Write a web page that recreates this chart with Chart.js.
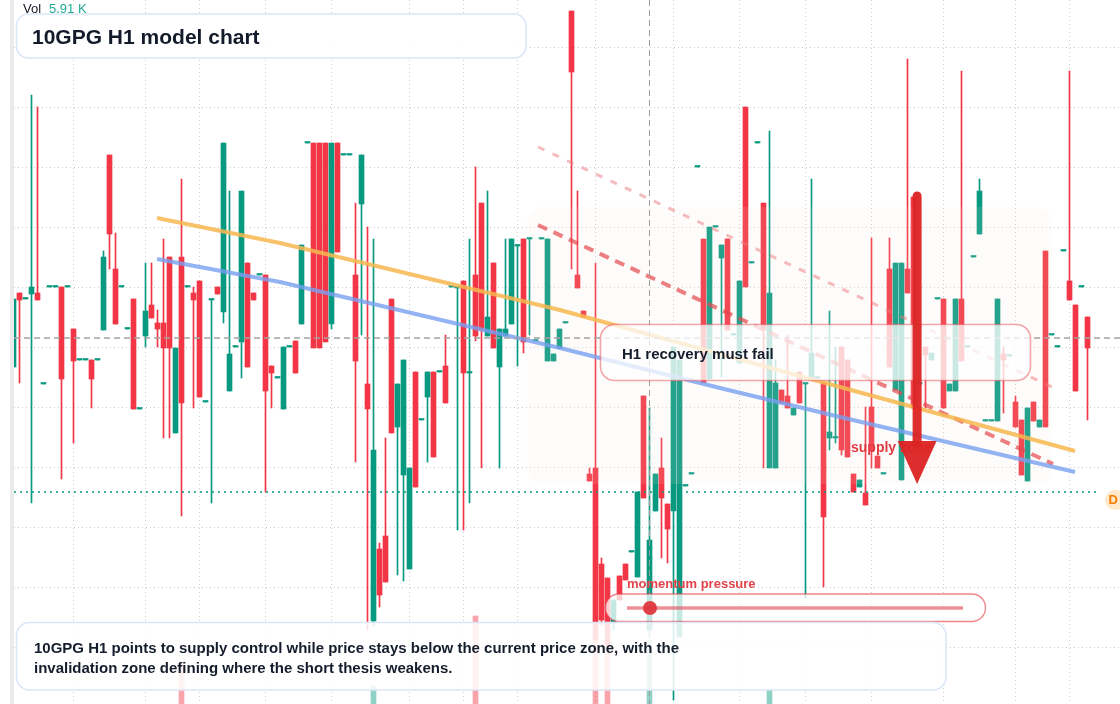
<!DOCTYPE html>
<html><head><meta charset="utf-8">
<script src="https://cdn.jsdelivr.net/npm/chart.js@4.4.1/dist/chart.umd.min.js"></script>
<style>html,body{margin:0;padding:0;background:#fff;overflow:hidden}#wrap{position:relative;width:1120px;height:704px}</style>
</head><body><div id="wrap"><canvas id="c" width="1120" height="704"></canvas></div>
<script>
// ---- candle data (H1 bars, oldest first) ----
const openP = [6.33,7.07,7.01,7.06,7.07,6.16,7.13,7.13,7.13,7.13, 6.71,6.40,6.40,6.40,6.40,6.70,8.45,7.31,7.13,6.71,
 7.01,5.91,6.64,6.95,6.77,6.77,7.43,5.67,7.43,7.13, 7.07,7.19,5.98,7.00,7.13,6.88,6.09,6.53,6.58,7.37,
 7.07,7.25,7.25,6.34,6.22,5.91,6.53,6.59,6.76,8.57, 8.57,8.57,8.57,6.76,8.57,8.45,8.45,7.25,7.96,6.16,
 3.79,4.51,4.64,7.01,5.73,5.25,4.31,6.28,5.80,6.03, 6.28,6.28,6.34,7.13,7.12,7.19,6.27,7.25,7.97,6.64,
 7.37,6.33,6.64,6.76,7.54,7.61,7.61,6.59,7.61,6.39, 6.39,6.52,6.77,9.89,7.25,6.89,5.26,5.32,4.36,4.22,
 3.78,4.24,4.36,4.48,4.23,6.04,3.70,4.89,5.32,4.96, 4.89,3.63,5.14,5.26,8.33,7.61,6.21,7.73,7.42,7.61,
 6.65,6.37,8.93,7.37,8.57,7.97,5.32,5.32,6.10,6.04, 5.85,6.28,6.16,6.22,6.22,6.17,5.62,5.62,6.53,6.40,
 5.26,5.13,5.07,5.93,5.44,5.26,7.31,6.10,5.20,7.31, 8.03,6.16,6.53,6.40,7.01,7.01,6.09,6.09,7.01,6.53,
 7.43,7.66,5.79,5.79,5.79,6.46,6.44,5.98,5.80,5.19, 5.98,5.73,7.49,6.65,6.53,7.49,7.19,6.95,7.13,6.83];
const highP = [7.01,7.07,7.01,9.05,8.93,6.16,7.13,7.13,7.13,7.13, 6.71,6.40,6.40,6.40,6.40,7.49,8.45,7.67,7.13,6.71,
 7.01,5.91,7.37,7.37,6.90,7.61,7.43,6.52,8.21,7.13, 7.13,7.19,5.98,7.01,7.13,8.57,8.09,6.53,8.09,7.37,
 7.07,7.25,7.25,6.34,6.22,6.53,6.53,6.59,7.55,8.57, 8.57,8.57,8.57,8.57,8.57,8.45,8.45,7.97,8.45,7.73,
 7.61,4.57,5.62,7.01,6.16,6.40,5.32,6.28,5.80,6.28, 6.28,6.28,6.65,7.13,7.13,7.19,7.61,8.33,7.97,8.09,
 7.37,6.71,7.61,7.61,7.55,7.61,7.61,6.59,7.61,7.61, 6.46,6.71,6.77,9.89,8.09,6.89,5.32,7.37,4.42,4.22,
 4.00,4.24,4.36,4.48,5.08,6.04,5.92,5.26,5.62,4.96, 6.53,6.40,5.14,5.26,8.33,7.61,7.73,7.73,7.55,7.61,
 6.65,7.19,8.93,7.37,8.57,7.97,8.69,6.40,6.10,6.65, 5.92,6.28,6.16,8.21,6.22,6.17,6.89,6.53,6.53,6.40,
 5.26,5.20,5.93,7.62,5.44,5.26,7.62,7.37,7.37,9.41, 8.03,6.16,6.53,6.47,7.01,7.01,6.16,7.01,9.29,6.53,
 7.43,8.21,5.79,5.79,7.01,6.53,6.44,6.04,5.80,5.92, 5.98,5.80,7.49,6.65,6.53,7.49,9.29,6.95,7.13,6.83];
const lowP = [6.33,6.17,7.01,4.97,7.00,6.16,7.13,7.13,5.21,7.13, 5.57,6.40,6.40,5.92,6.40,6.70,7.31,6.76,7.13,6.71,
 5.91,5.91,6.53,6.82,6.53,5.62,5.62,5.67,4.84,7.13, 5.92,6.03,5.98,4.97,7.06,6.77,6.09,6.53,6.22,6.33,
 7.00,7.25,5.08,5.92,6.22,5.91,6.53,6.27,6.76,8.57, 6.52,6.52,6.58,6.71,7.48,8.45,8.45,5.38,6.65,3.70,
 3.74,3.93,4.18,5.67,4.25,4.19,4.31,5.13,5.80,5.38, 5.43,6.28,5.97,7.13,4.70,4.70,4.97,6.59,5.32,6.64,
 6.52,5.32,6.64,6.76,6.34,6.47,6.65,6.59,7.61,6.39, 6.39,6.52,6.77,7.31,7.12,6.83,5.19,3.60,3.75,3.55,
 3.70,4.00,4.20,4.48,4.23,5.02,3.63,4.89,4.42,4.37, 3.00,3.63,5.14,5.26,8.33,6.17,6.21,7.73,6.23,6.70,
 6.65,6.37,7.13,7.37,8.57,5.32,5.32,5.32,5.97,5.92, 5.85,5.97,4.02,6.22,6.22,4.13,5.50,5.57,5.45,5.43,
 5.08,5.13,4.95,5.32,5.32,5.26,6.33,6.10,5.20,7.07, 5.92,6.16,5.92,6.40,7.01,5.92,6.09,6.09,6.39,6.53,
 7.43,7.66,5.79,5.79,5.79,5.87,6.44,5.73,5.25,5.19, 5.79,5.73,5.73,6.65,6.53,7.49,7.00,6.09,7.13,5.80];
const closeP = [7.01,7.00,7.01,7.13,7.00,6.16,7.13,7.13,6.21,7.13, 6.39,6.40,6.40,6.21,6.40,7.43,7.66,6.76,7.13,6.71,
 5.91,5.91,6.89,6.82,6.71,6.52,6.52,6.52,5.97,7.13, 7.00,6.03,5.98,7.01,7.06,8.57,6.46,6.53,8.09,6.33,
 7.00,7.25,6.09,6.27,6.22,6.53,6.53,6.27,7.55,8.57, 6.52,6.52,6.58,8.57,7.48,8.45,8.45,6.39,8.45,5.91,
 5.50,4.05,4.18,5.67,6.16,6.40,5.32,5.13,5.80,6.28, 5.43,6.28,5.97,7.13,7.13,6.27,6.28,6.64,6.70,6.83,
 6.52,6.71,6.71,7.61,7.55,6.58,7.61,6.59,7.61,7.61, 6.46,6.71,6.77,9.28,7.12,6.83,5.19,3.60,3.80,3.55,
 4.00,4.00,4.20,4.48,5.08,5.02,4.60,5.26,5.02,4.71, 6.53,6.40,5.14,5.26,8.33,6.17,7.73,7.73,7.55,6.70,
 6.65,7.19,7.13,7.37,8.57,6.70,7.07,6.17,5.97,5.92, 5.92,5.97,6.16,6.47,6.22,4.83,5.68,5.62,5.50,5.43,
 5.08,5.20,4.95,5.49,5.32,5.26,6.33,7.37,7.37,7.07, 5.92,6.16,6.45,6.47,7.01,5.92,6.16,7.01,6.39,6.53,
 7.43,8.09,5.79,5.79,7.01,6.40,6.44,5.73,5.25,5.92, 5.79,5.80,5.73,6.65,6.53,7.49,7.00,6.09,7.13,6.52];
// visible volume bars (bar index, volume in K)
const volIdx = [28, 60, 77, 97, 99, 106, 126];
const volK   = [4.2, 1.8, 8.8, 7.4, 6.4, 6.4, 1.4];
// price grid & reference levels
const gridPrices = [9.53, 8.93, 8.33, 7.73, 7.13, 6.53, 5.93, 5.33, 4.73, 4.13, 3.53];
const gridBars = [10, 22, 31, 42, 53, 66, 75, 84, 97, 110, 121, 132, 143, 155, 167, 176];
const crossBar = 106, crossPrice = 6.62, lastPrice = 5.08;
// drawn structure (bar index / price)
const orangeX = [23.92, 44.42, 91.08, 137.75, 176.92];
const orangeY = [7.82, 7.57, 6.90, 6.13, 5.49];
const blueX = [23.92, 44.42, 91.08, 117.75, 137.75, 176.92];
const blueY = [7.41, 7.18, 6.52, 6.12, 5.83, 5.28];
const redLowX = [87.42, 173.25], redLowY = [7.75, 5.36];
const redHighX = [87.42, 173.08], redHighY = [8.53, 6.13];
const zoneX = [85.6, 173.1], zoneY = [7.93, 5.16];
const arrowBar = 150.6, arrowFrom = 8.04, arrowHeadBase = 5.59, arrowTip = 5.16;

const GREEN = '#089981', RED = '#f23645';
const isUp = i => closeP[i] >= openP[i];
const colors = openP.map((_, i) => isUp(i) ? GREEN : RED);
const bodyData = openP.map((o, i) => ({x: i, y: [o, closeP[i]]}));
const wickData = openP.map((o, i) => ({x: i, y: [lowP[i], highP[i]]}));
const volData = volIdx.map((b, k) => ({x: b, y: volK[k]}));
const volColors = volIdx.map(b => isUp(b) ? 'rgba(8,153,129,0.45)' : 'rgba(242,54,69,0.45)');
const pts = (xs, ys) => xs.map((x, k) => ({x, y: ys[k]}));

const FONT = "'Liberation Sans', Arial, sans-serif";
function rr(ctx, x, y, w, h, r) {
  ctx.beginPath();
  ctx.moveTo(x + r, y); ctx.lineTo(x + w - r, y); ctx.arcTo(x + w, y, x + w, y + r, r);
  ctx.lineTo(x + w, y + h - r); ctx.arcTo(x + w, y + h, x + w - r, y + h, r);
  ctx.lineTo(x + r, y + h); ctx.arcTo(x, y + h, x, y + h - r, r);
  ctx.lineTo(x, y + r); ctx.arcTo(x, y, x + r, y, r); ctx.closePath();
}
const BODY_INDEX = 1;
const annot = {
  id: 'annot',
  beforeDatasetsDraw(chart) {
    const {ctx} = chart, xs = chart.scales.x, ys = chart.scales.y;
    ctx.save();
    ctx.strokeStyle = '#cdcdcd'; ctx.lineWidth = 1; ctx.setLineDash([1, 3]);
    gridPrices.forEach(p => { const y = Math.round(ys.getPixelForValue(p)) + 0.5;
      ctx.beginPath(); ctx.moveTo(14, y); ctx.lineTo(1120, y); ctx.stroke(); });
    gridBars.forEach(b => { const x = Math.floor(xs.getPixelForValue(b)) + 0.5;
      ctx.beginPath(); ctx.moveTo(x, 0); ctx.lineTo(x, 704); ctx.stroke(); });
    ctx.restore();
  },
  afterDatasetDraw(chart, args) {
    if (args.index !== BODY_INDEX) return;
    const {ctx} = chart, xs = chart.scales.x, ys = chart.scales.y;
    const x0 = xs.getPixelForValue(zoneX[0]), x1 = xs.getPixelForValue(zoneX[1]);
    const y0 = ys.getPixelForValue(zoneY[0]), y1 = ys.getPixelForValue(zoneY[1]);
    ctx.save(); rr(ctx, x0, y0, x1 - x0, y1 - y0, 16);
    ctx.fillStyle = 'rgba(245,228,210,0.12)'; ctx.fill(); ctx.restore();
  },
  afterDatasetsDraw(chart) {
    const {ctx} = chart, xs = chart.scales.x, ys = chart.scales.y;
    ctx.save();
    // crosshair and last price
    ctx.lineWidth = 1; ctx.strokeStyle = '#9c9c9c'; ctx.setLineDash([6, 4]);
    const cx = Math.floor(xs.getPixelForValue(crossBar)) + 0.5;
    ctx.beginPath(); ctx.moveTo(cx, 0); ctx.lineTo(cx, 704); ctx.stroke();
    ctx.lineWidth = 1.5; ctx.strokeStyle = '#a3a3a3';
    const cy = ys.getPixelForValue(crossPrice);
    ctx.beginPath(); ctx.moveTo(14, cy); ctx.lineTo(1120, cy); ctx.stroke();
    ctx.strokeStyle = GREEN; ctx.setLineDash([2, 4]);
    const ly = ys.getPixelForValue(lastPrice);
    ctx.beginPath(); ctx.moveTo(14, ly); ctx.lineTo(1100, ly); ctx.stroke();
    ctx.setLineDash([]);
    // H1 box
    rr(ctx, 600.5, 324.5, 430, 56, 14);
    ctx.fillStyle = 'rgba(255,255,255,0.76)'; ctx.fill();
    ctx.strokeStyle = 'rgba(232,80,88,0.5)'; ctx.lineWidth = 1.6; ctx.stroke();
    ctx.fillStyle = '#151d2d'; ctx.font = 'bold 15px ' + FONT; ctx.textBaseline = 'alphabetic';
    ctx.fillText('H1 recovery must fail', 622, 359);
    // slider
    rr(ctx, 605.5, 594, 380, 27.5, 13.5);
    ctx.fillStyle = 'rgba(255,255,255,0.76)'; ctx.fill();
    ctx.strokeStyle = 'rgba(230,70,78,0.65)'; ctx.lineWidth = 1.4; ctx.stroke();
    ctx.strokeStyle = 'rgba(226,72,80,0.6)'; ctx.lineWidth = 3.5;
    ctx.beginPath(); ctx.moveTo(627, 608); ctx.lineTo(963, 608); ctx.stroke();
    ctx.fillStyle = 'rgba(224,50,56,0.92)'; ctx.beginPath(); ctx.arc(650, 608, 7, 0, Math.PI * 2); ctx.fill();
    ctx.fillStyle = '#e2434b'; ctx.font = 'bold 13px ' + FONT;
    ctx.fillText('momentum pressure', 627, 588);
    // supply zone label
    ctx.fillStyle = '#e03b40'; ctx.font = 'bold 14px ' + FONT;
    ctx.fillText('supply zone', 851, 452);
    // arrow
    const ax = xs.getPixelForValue(arrowBar);
    const aTop = ys.getPixelForValue(arrowFrom), aBase = ys.getPixelForValue(arrowHeadBase), aTip = ys.getPixelForValue(arrowTip);
    ctx.strokeStyle = 'rgba(220,36,36,0.96)'; ctx.lineWidth = 9; ctx.lineCap = 'round';
    ctx.beginPath(); ctx.moveTo(ax, aTop); ctx.lineTo(ax, aBase + 2); ctx.stroke();
    ctx.lineCap = 'butt';
    ctx.fillStyle = 'rgba(220,36,36,0.96)';
    ctx.beginPath(); ctx.moveTo(ax - 19.5, aBase); ctx.lineTo(ax + 19.5, aBase); ctx.lineTo(ax, aTip); ctx.closePath(); ctx.fill();
    // bottom note
    rr(ctx, 16.5, 622.5, 929.5, 67.5, 13);
    ctx.fillStyle = 'rgba(255,255,255,0.86)'; ctx.fill();
    ctx.strokeStyle = '#dbe6f8'; ctx.lineWidth = 1.6; ctx.stroke();
    ctx.fillStyle = '#151d2d'; ctx.font = 'bold 15px ' + FONT;
    ctx.fillText('10GPG H1 points to supply control while price stays below the current price zone, with the', 34, 653);
    ctx.fillText('invalidation zone defining where the short thesis weakens.', 34, 673);
    // title
    rr(ctx, 16.5, 14, 509.5, 44, 12);
    ctx.fillStyle = 'rgba(255,255,255,0.93)'; ctx.fill();
    ctx.strokeStyle = '#dbe6f8'; ctx.lineWidth = 1.6; ctx.stroke();
    ctx.fillStyle = '#131b2b'; ctx.font = 'bold 21px ' + FONT;
    ctx.fillText('10GPG H1 model chart', 32, 43.5);
    // vol label
    ctx.font = '13px ' + FONT; ctx.fillStyle = '#131722'; ctx.fillText('Vol', 23, 13);
    ctx.fillStyle = '#22ab94'; ctx.fillText('5.91 K', 49, 13);
    // D badge
    ctx.fillStyle = 'rgba(255,190,110,0.35)'; ctx.beginPath(); ctx.arc(1115, 500, 10, 0, Math.PI * 2); ctx.fill();
    ctx.fillStyle = '#f57c00'; ctx.font = 'bold 13px ' + FONT; ctx.textBaseline = 'middle';
    ctx.fillText('D', 1108.5, 500.5);
    // left strip
    ctx.fillStyle = '#ebebeb'; ctx.fillRect(10, 0, 4, 704);
    ctx.restore();
  }
};

new Chart(document.getElementById('c'), {
  type: 'bar',
  data: {
    datasets: [
      {type: 'line', data: pts(orangeX, orangeY), borderColor: 'rgba(247,183,80,0.85)', borderWidth: 4, pointRadius: 0, order: 0, tension: 0},
      {data: bodyData, backgroundColor: colors, barThickness: 5, minBarLength: 1.5, grouped: false, order: 1, borderWidth: 0},
      {data: wickData, backgroundColor: colors, barThickness: 1, grouped: false, order: 2, borderWidth: 0},
      {data: volData, backgroundColor: volColors, barThickness: 5, grouped: false, order: 3, yAxisID: 'yv', borderWidth: 0},
      {type: 'line', data: pts(blueX, blueY), borderColor: 'rgba(120,160,240,0.8)', borderWidth: 4, pointRadius: 0, order: 0, tension: 0},
      {type: 'line', data: pts(redLowX, redLowY), borderColor: 'rgba(228,72,78,0.7)', borderWidth: 4, borderDash: [10, 7], pointRadius: 0, order: 0},
      {type: 'line', data: pts(redHighX, redHighY), borderColor: 'rgba(238,120,125,0.5)', borderWidth: 3, borderDash: [7, 9], pointRadius: 0, order: 0}
    ]
  },
  options: {
    responsive: false, animation: false, events: [],
    layout: {padding: 0},
    plugins: {legend: {display: false}, tooltip: {enabled: false}},
    scales: {
      x: {type: 'linear', min: -2.25, max: 184.4167, offset: false, display: false},
      y: {type: 'linear', min: 2.96, max: 10.0, display: false},
      yv: {type: 'linear', min: 0, max: 70.4, display: false}
    }
  },
  plugins: [annot]
});
</script></body></html>
